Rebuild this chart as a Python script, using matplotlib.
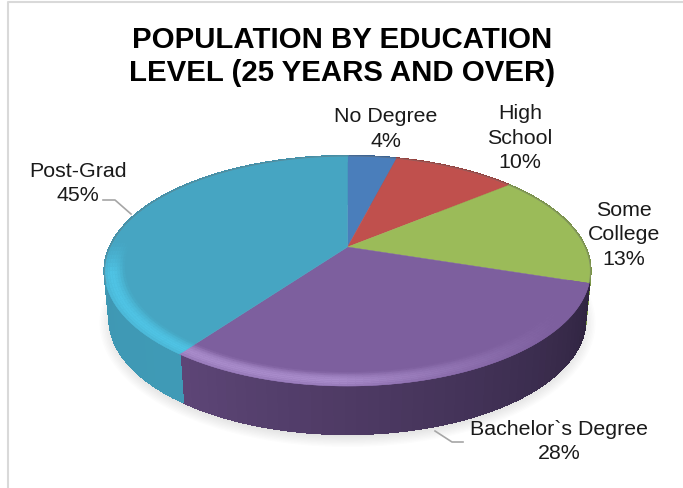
import numpy as np
import matplotlib
matplotlib.use('Agg')
import matplotlib.pyplot as plt
from matplotlib.collections import PolyCollection
from matplotlib.colors import to_rgb
from matplotlib.patches import Ellipse

plt.rcParams['font.family'] = ['Liberation Sans', 'DejaVu Sans']

# data
title = 'POPULATION BY EDUCATION\nLEVEL (25 YEARS AND OVER)'
categories = ['No Degree', 'High\nSchool', 'Some\nCollege', 'Bachelor`s Degree', 'Post-Grad']
percent_labels = [4, 10, 13, 28, 45]
# shares as the slices are actually drawn in the picture
drawn_shares = [4, 10, 16, 30, 40]

# colours: top face, bevel highlight, side near, side far
top_colors = ['#4a7ebb', '#c0504d', '#9bbb59', '#7d5f9e', '#46a5c2']
bevel_colors = ['#4a7ebb', '#c0504d', '#9bbb59', '#a98ccb', '#4fc3e4']
side_start = ['#3a6496', '#98403d', '#7b9647', '#2f2440', '#3f9ab6']
side_end = ['#3a6496', '#98403d', '#7b9647', '#5d4576', '#3f92ad']

# label centres in pixels
label_pos = [(386, 129), (520, 138), (624, 235), (559, 441.5), (78, 183.5)]

# perspective of the disc
cx, cy = 347.5, 248
a, b, k = 237.6, 110, 0.2087
depth = 48
side_scale = 0.98


def project(frac, r=1.0):
    # share of the circle (clockwise from top) -> pixel position
    ang = 2 * np.pi * np.asarray(frac)
    X, Y = r * np.sin(ang), r * np.cos(ang)
    w = 1 + k * Y
    return cx + a * X / w, cy - b * Y / w


def mix(c1, c2, t):
    c1, c2 = np.array(to_rgb(c1)), np.array(to_rgb(c2))
    return tuple(c1 + (c2 - c1) * np.clip(t, 0, 1))


fig = plt.figure(figsize=(6.83, 4.89), dpi=100)
ax = fig.add_axes([0, 0, 1, 1])
ax.set_xlim(0, 683)
ax.set_ylim(489, 0)
ax.axis('off')

# chart frame
ax.plot([7.5, 7.5, 683], [489, 2.5, 2.5], color='#d9d9d9', lw=1.5, zorder=1)

# soft shadow under the pie
for i in range(10):
    ax.add_patch(Ellipse((cx, cy + 76), 2 * (248 - i * 1.5), 2 * (124 - i * 1.3),
                         color='#8c8c8c', alpha=0.025, lw=0, zorder=2))

edges = np.cumsum([0] + drawn_shares) / sum(drawn_shares)

# side wall
for i in range(len(drawn_shares)):
    fr = np.linspace(edges[i], edges[i + 1], 50)
    x0, y0 = project(fr)
    x1 = cx + (x0 - cx) * side_scale
    y1 = y0 + depth
    polys, cols = [], []
    for j in range(len(fr) - 1):
        polys.append([(x0[j], y0[j]), (x0[j + 1], y0[j + 1]), (x1[j + 1], y1[j + 1]), (x1[j], y1[j])])
        cols.append(mix(side_start[i], side_end[i], j / (len(fr) - 2)))
    ax.add_collection(PolyCollection(polys, facecolors=cols, edgecolors=cols, linewidths=1.0,
                                     antialiaseds=False, zorder=3))

# top face
for i in range(len(drawn_shares)):
    fr = np.linspace(edges[i], edges[i + 1], 80)
    x, y = project(fr)
    ax.fill(np.r_[cx, x], np.r_[cy, y], color=top_colors[i], lw=0.3, zorder=4)

# bevel highlight along the front rim
radii = np.linspace(0.92, 1.0, 9)
for i in range(len(drawn_shares)):
    if bevel_colors[i] == top_colors[i]:
        continue
    fr = np.linspace(edges[i], edges[i + 1], 70)
    polys, cols = [], []
    for n in range(len(radii) - 1):
        xa, ya = project(fr, radii[n])
        xb, yb = project(fr, radii[n + 1])
        prof = np.sin(np.pi * (n + 0.5) / (len(radii) - 1) * 0.8)
        for j in range(len(fr) - 1):
            polys.append([(xa[j], ya[j]), (xa[j + 1], ya[j + 1]), (xb[j + 1], yb[j + 1]), (xb[j], yb[j])])
            # highlight fades towards the right and towards the back
            front = np.clip((560 - xb[j]) / 220, 0, 1) * np.clip((yb[j] - 245) / 30, 0, 1)
            cols.append(mix(top_colors[i], bevel_colors[i], prof * front))
    ax.add_collection(PolyCollection(polys, facecolors=cols, edgecolors=cols, linewidths=0.3, zorder=5))

# thin dark line at the back rim
fr = np.linspace(-0.3, 0.3, 120)
x, y = project(fr)
ax.plot(x, y, color='#6f6f6f', lw=0.7, alpha=0.45, zorder=6)

# leader lines
ax.plot([103, 115, 131], [201, 201, 215], color='#a6a6a6', lw=1.2, zorder=7)
ax.plot([435, 452, 463], [432, 443, 443], color='#a6a6a6', lw=1.2, zorder=7)

# texts
ax.text(342, 56.5, title, ha='center', va='center', fontsize=21.2, fontweight='bold',
        color='black', linespacing=1.25, zorder=8)
for name, pct, pos in zip(categories, percent_labels, label_pos):
    ax.text(pos[0], pos[1], f'{name}\n{pct}%', ha='center', va='center', fontsize=15.4,
            color='#1a1a1a', linespacing=1.35, zorder=8)

fig.savefig('out.png', dpi=100)
